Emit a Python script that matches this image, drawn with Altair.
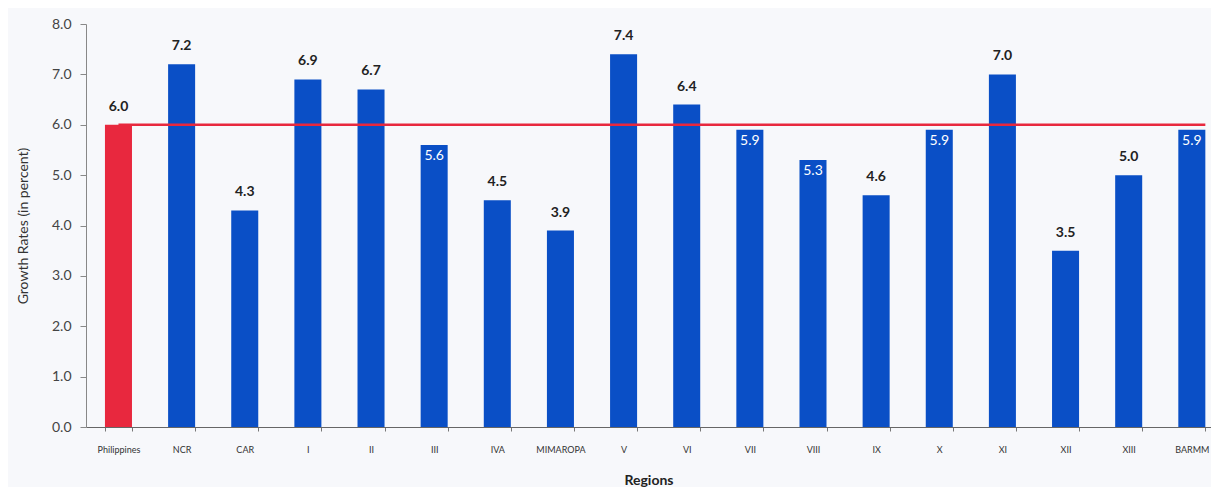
import altair as alt
import pandas as pd

regions = ["Philippines", "NCR", "CAR", "I", "II", "III", "IVA", "MIMAROPA", "V",
           "VI", "VII", "VIII", "IX", "X", "XI", "XII", "XIII", "BARMM"]
growth = [6.0, 7.2, 4.3, 6.9, 6.7, 5.6, 4.5, 3.9, 7.4,
          6.4, 5.9, 5.3, 4.6, 5.9, 7.0, 3.5, 5.0, 5.9]
inside_labels = ["III", "VII", "VIII", "X", "BARMM"]
national_rate = 6.0
y_ticks = [0, 1, 2, 3, 4, 5, 6, 7, 8]

df = pd.DataFrame({"region": regions, "growth": growth})
df["label"] = df["growth"].map(lambda v: f"{v:.1f}")
df["inside"] = df["region"].isin(inside_labels)

FONT = "Lato"
BLUE = "#0a4fc6"
RED = "#e8283e"

xscale = alt.Scale(domain=regions, paddingInner=0.572, paddingOuter=0.195, align=0.77)

x = alt.X("region:N", scale=xscale, title="Regions",
          axis=alt.Axis(labelAngle=0, labelFontSize=9, labelColor="#333",
                        labelFont=FONT, tickBand="extent", tickSize=4,
                        tickColor="#777", domainColor="#666", labelPadding=14,
                        titleFont=FONT, titleFontSize=14, titleFontWeight="bold",
                        titleColor="#222", titlePadding=19))
y = alt.Y("growth:Q", title="Growth Rates (in percent)",
          scale=alt.Scale(domain=[0, 8], nice=False),
          axis=alt.Axis(values=y_ticks, format=".1f", grid=False, labelFontSize=14,
                        labelColor="#444", labelFont=FONT, tickSize=6,
                        tickColor="#888", domainColor="#888", labelPadding=9,
                        titleFont=FONT, titleFontSize=14, titleFontWeight="normal",
                        titleColor="#333", titlePadding=21))

bars = alt.Chart(df).mark_bar().encode(
    x=x, y=y,
    color=alt.condition(alt.datum.region == "Philippines", alt.value(RED), alt.value(BLUE)),
)

rule_df = pd.DataFrame({"region": [regions[0]], "region_end": [regions[-1]],
                        "rate": [national_rate]})
rule = alt.Chart(rule_df).mark_rule(color=RED, strokeWidth=2.5).encode(
    x=alt.X("region:N", scale=xscale, bandPosition=0.5),
    x2=alt.X2("region_end:N", bandPosition=1),
    y="rate:Q",
)

above = alt.Chart(df).transform_filter(~alt.datum.inside).mark_text(
    baseline="bottom", dy=-11, font=FONT, fontSize=14, fontWeight="bold", color="#222"
).encode(x=alt.X("region:N", scale=xscale), y="growth:Q", text="label:N")

inside = alt.Chart(df).transform_filter(alt.datum.inside).mark_text(
    baseline="top", dy=4, font=FONT, fontSize=14, fontWeight="normal", color="white"
).encode(x=alt.X("region:N", scale=xscale), y="growth:Q", text="label:N")

chart = alt.layer(bars, rule, above, inside).properties(
    width=1125, height=403,
    autosize=alt.AutoSizeParams(type="none"),
    padding={"left": 78, "top": 16, "right": 0, "bottom": 60},
    background="#f7f8fb",
).configure_view(stroke=None)

chart.save("out.html", embed_options={"renderer": "svg", "actions": False})
